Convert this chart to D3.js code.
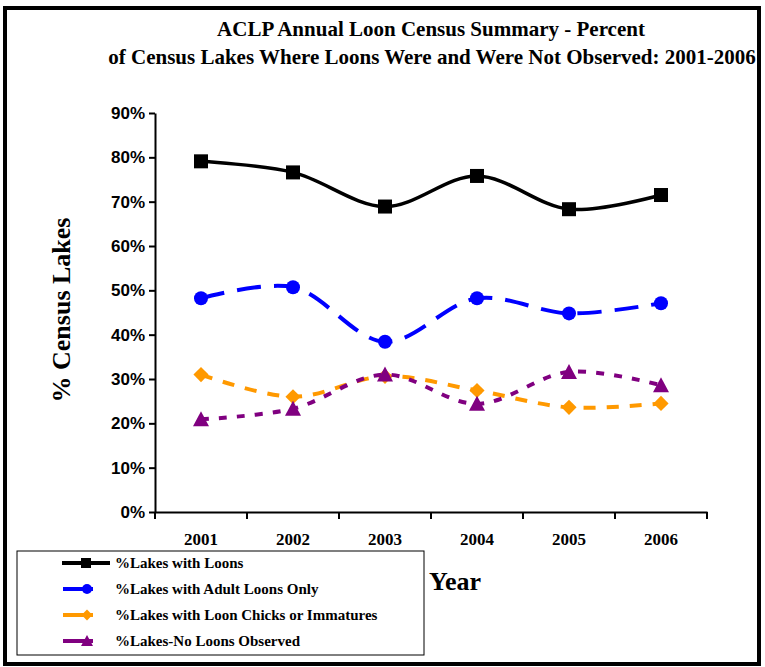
<!DOCTYPE html>
<html>
<head>
<meta charset="utf-8">
<script src="https://cdn.jsdelivr.net/npm/d3@7"></script>
<style>
  body { margin: 0; background: #fff; }
  svg text { fill: #000; }
</style>
</head>
<body>
<svg id="chart" width="765" height="667"></svg>
<script>
const years = ['2001', '2002', '2003', '2004', '2005', '2006'];
const withLoons = [79.1, 76.6, 68.9, 75.8, 68.3, 71.5];
const adultOnly = [48.2, 50.7, 38.4, 48.2, 44.8, 47.1];
const chicks = [31.0, 26.0, 30.6, 27.4, 23.6, 24.5];
const noLoons = [20.9, 23.3, 31.0, 24.4, 31.6, 28.6];
const yTicks = [0, 10, 20, 30, 40, 50, 60, 70, 80, 90];

const series = [
  { name: '%Lakes with Loons', values: withLoons, color: '#000000', dash: null, marker: 'square', width: 3.5 },
  { name: '%Lakes with Adult Loons Only', values: adultOnly, color: '#0000ff', dash: '24,13', marker: 'circle', width: 4 },
  { name: '%Lakes with Loon Chicks or Immatures', values: chicks, color: '#ff9900', dash: '12,11', marker: 'diamond', width: 4 },
  { name: '%Lakes-No Loons Observed', values: noLoons, color: '#800080', dash: '8,10', marker: 'triangle', width: 4 },
];

const svg = d3.select('#chart');
const plotLeft = 155, plotRight = 707, plotTop = 113, plotBottom = 512;

// outer frame
svg.append('rect')
  .attr('x', 5).attr('y', 8)
  .attr('width', 754).attr('height', 656)
  .attr('fill', 'none').attr('stroke', '#000').attr('stroke-width', 4);

const x = d3.scaleBand().domain(years).range([plotLeft, plotRight]);
const y = d3.scaleLinear().domain([0, 90]).range([plotBottom, plotTop]);

// title
const title = svg.append('text')
  .attr('text-anchor', 'middle')
  .style('font-family', '"Liberation Serif", "Times New Roman", serif')
  .style('font-weight', 'bold')
  .style('font-size', '21px');
title.append('tspan').attr('x', 431).attr('y', 36).text('ACLP Annual Loon Census Summary - Percent');
title.append('tspan').attr('x', 432).attr('y', 64).text('of Census Lakes Where Loons Were and Were Not Observed: 2001-2006');

// y axis
const yAxis = svg.append('g')
  .attr('transform', `translate(${plotLeft},0)`)
  .call(d3.axisLeft(y).tickValues(yTicks).tickFormat(d => d + '%').tickSize(6).tickSizeOuter(0));
yAxis.select('.domain').attr('stroke-width', 2);
yAxis.selectAll('.tick line').attr('stroke-width', 2);
yAxis.selectAll('text')
  .attr('x', -10)
  .style('font-family', '"Liberation Sans", Arial, sans-serif')
  .style('font-weight', 'bold')
  .style('font-size', '17px');

// x axis
const xAxis = svg.append('g')
  .attr('transform', `translate(0,${plotBottom})`)
  .call(d3.axisBottom(x).tickSize(0).tickPadding(21));
xAxis.select('.domain').attr('stroke-width', 2);
xAxis.selectAll('text')
  .style('font-family', '"Liberation Serif", "Times New Roman", serif')
  .style('font-weight', 'bold')
  .style('font-size', '17px');
// boundary ticks between categories
xAxis.selectAll('.bound')
  .data(years.concat(['end']))
  .enter()
  .append('line')
  .attr('class', 'bound')
  .attr('x1', (d, i) => plotLeft + i * x.step())
  .attr('x2', (d, i) => plotLeft + i * x.step())
  .attr('y1', 0).attr('y2', 7)
  .attr('stroke', '#000').attr('stroke-width', 2);

// axis titles
svg.append('text')
  .attr('transform', 'translate(70,310) rotate(-90)')
  .attr('text-anchor', 'middle')
  .style('font-family', '"Liberation Serif", "Times New Roman", serif')
  .style('font-weight', 'bold')
  .style('font-size', '26px')
  .text('% Census Lakes');

svg.append('text')
  .attr('x', 429).attr('y', 590)
  .style('font-family', '"Liberation Serif", "Times New Roman", serif')
  .style('font-weight', 'bold')
  .style('font-size', '26px')
  .text('Year');

const cx = d => x(d) + x.bandwidth() / 2;

function drawMarker(g, type, color, size) {
  if (type === 'square') {
    g.append('rect').attr('x', -size / 2).attr('y', -size / 2)
      .attr('width', size).attr('height', size).attr('fill', color);
  } else if (type === 'circle') {
    g.append('circle').attr('r', size / 2).attr('fill', color);
  } else if (type === 'diamond') {
    g.append('path').attr('d', d3.symbol(d3.symbolDiamond2, size * size * 0.75)()).attr('fill', color);
  } else {
    g.append('path')
      .attr('d', `M0,${-size / 2 - 1}L${size / 2 + 1},${size / 2}L${-size / 2 - 1},${size / 2}Z`)
      .attr('fill', color);
  }
}

const line = d3.line()
  .x((d, i) => cx(years[i]))
  .y(d => y(d))
  .curve(d3.curveCatmullRom.alpha(0.5));

series.forEach(s => {
  svg.append('path')
    .datum(s.values)
    .attr('d', line)
    .attr('fill', 'none')
    .attr('stroke', s.color)
    .attr('stroke-width', s.width)
    .attr('stroke-dasharray', s.dash);
  s.values.forEach((v, i) => {
    const g = svg.append('g').attr('transform', `translate(${cx(years[i])},${y(v)})`);
    drawMarker(g, s.marker, s.color, 14);
  });
});

// legend
const legend = svg.append('g');
legend.append('rect')
  .attr('x', 17).attr('y', 551)
  .attr('width', 407).attr('height', 104)
  .attr('fill', '#fff').attr('stroke', '#000').attr('stroke-width', 1);

series.forEach((s, i) => {
  const ly = 563 + i * 26;
  const g = legend.append('g');
  const x1 = i === 0 ? 62 : 63;
  const x2 = i === 0 ? 110 : 93;
  g.append('line')
    .attr('x1', x1).attr('x2', x2).attr('y1', ly).attr('y2', ly)
    .attr('stroke', s.color).attr('stroke-width', 4);
  const m = g.append('g').attr('transform', `translate(${i === 0 ? 86 : 87},${ly})`);
  drawMarker(m, s.marker, s.color, 10);
  g.append('text')
    .attr('x', 115).attr('y', ly + 5)
    .style('font-family', '"Liberation Serif", "Times New Roman", serif')
    .style('font-weight', 'bold')
    .style('font-size', '15px')
    .text(s.name);
});
</script>
</body>
</html>
